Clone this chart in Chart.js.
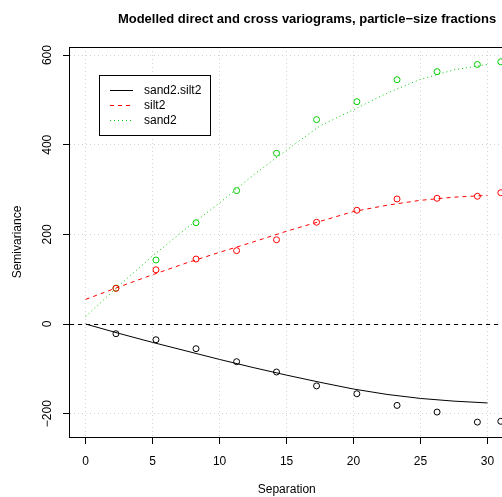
<!DOCTYPE html>
<html>
<head>
<meta charset="utf-8">
<script src="https://cdn.jsdelivr.net/npm/chart.js@4"></script>
<style>
html,body{margin:0;padding:0;overflow:hidden;background:#ffffff;width:502px;height:497px}
#wrap{position:relative;width:540px;height:497px}
</style>
</head>
<body>
<div id="wrap"><canvas id="c" width="540" height="497"></canvas></div>
<script>
// ---- data ----
const seriesNames = ['sand2.silt2', 'silt2', 'sand2'];
const titleText = 'Modelled direct and cross variograms, particle\u2212size fractions';
const xTitle = 'Separation';
const yTitle = 'Semivariance';

// empirical variogram lags and values (circles)
const lags = [2.26, 5.25, 8.24, 11.27, 14.25, 17.24, 20.25, 23.25, 26.24, 29.25, 31.0];
const sand2silt2Obs = [-21.6, -35, -55, -84, -107, -138, -155.5, -181.5, -196.4, -218.8, -217];
const silt2Obs = [79.6, 121, 145, 163.7, 188, 227, 253.8, 279, 280.5, 285, 293];
const sand2Obs = [80, 142.9, 226, 297.6, 381, 456, 496, 545, 563, 579, 585];

// fitted model curves (lines)
const modelDist = [0, 2.5, 5, 7.5, 10, 12.5, 15, 17.5, 20, 22.5, 25, 27.5, 30];
const sand2silt2Model = [0, -21, -41, -60, -79, -97, -114, -130, -145, -157, -166, -172, -176];
const silt2Model = [55, 83, 110, 136, 160, 183, 207, 229, 251, 265, 276, 283, 287];
const sand2Model = [17, 86, 152, 213, 270, 332, 388, 442, 478, 515, 546, 567, 579];

const xTicks = [0, 5, 10, 15, 20, 25, 30];
const yTicks = [-200, 0, 200, 400, 600];

// ---- styling ----
const FONT = '"Liberation Sans", Arial, Helvetica, sans-serif';
const colors = ['#000000', '#FF0000', '#00CD00'];
const dashes = [[], [4, 4], [1, 3]];
const GRID = '#D3D3D3';

function pts(xs, ys) { return xs.map((x, i) => ({ x: x, y: ys[i] })); }
function fmt(v) { return String(v).replace('-', '\u2212'); }

const obs = [sand2silt2Obs, silt2Obs, sand2Obs];
const mods = [sand2silt2Model, silt2Model, sand2Model];

const datasets = [];
for (let i = 0; i < 3; i++) {
  datasets.push({
    label: seriesNames[i] + ' model',
    data: pts(modelDist, mods[i]),
    showLine: true,
    borderColor: colors[i],
    borderWidth: 1,
    borderDash: dashes[i],
    pointRadius: 0,
    fill: false,
    tension: 0
  });
}
for (let i = 0; i < 3; i++) {
  datasets.push({
    label: seriesNames[i],
    data: pts(lags, obs[i]),
    showLine: false,
    borderColor: colors[i],
    backgroundColor: 'rgba(0,0,0,0)',
    pointStyle: 'circle',
    pointRadius: 3,
    pointBorderWidth: 1,
    pointHoverRadius: 3
  });
}

const decor = {
  id: 'decor',
  beforeDatasetsDraw(chart) {
    const { ctx, chartArea: a, scales: { y } } = chart;
    const py = Math.round(y.getPixelForValue(0)) + 0.5;
    ctx.save();
    ctx.beginPath();
    ctx.rect(a.left, a.top, a.right - a.left, a.bottom - a.top);
    ctx.clip();
    ctx.strokeStyle = '#000';
    ctx.lineWidth = 1;
    ctx.setLineDash([4, 4]);
    ctx.beginPath();
    ctx.moveTo(a.left, py);
    ctx.lineTo(a.right, py);
    ctx.stroke();
    ctx.restore();
  },
  afterDraw(chart) {
    const { ctx, chartArea: a } = chart;
    ctx.save();
    // panel box
    ctx.strokeStyle = '#000';
    ctx.lineWidth = 1;
    ctx.setLineDash([]);
    ctx.strokeRect(Math.round(a.left) - 0.5, Math.round(a.top) + 0.5,
                   Math.round(a.right - a.left) + 1, Math.round(a.bottom - a.top));
    // title
    ctx.fillStyle = '#000';
    ctx.font = 'bold 13px ' + FONT;
    ctx.textAlign = 'center';
    ctx.textBaseline = 'alphabetic';
    ctx.fillText(titleText, 307, 22.5);
    // legend
    const lx = 99.5, ly = 75.5, lw = 111, lh = 60;
    ctx.fillStyle = '#fff';
    ctx.fillRect(lx, ly, lw, lh);
    ctx.strokeStyle = '#000';
    ctx.strokeRect(lx, ly, lw, lh);
    ctx.font = '12px ' + FONT;
    ctx.textAlign = 'left';
    ctx.textBaseline = 'middle';
    for (let i = 0; i < 3; i++) {
      const yy = 90.5 + i * 15;
      ctx.strokeStyle = colors[i];
      ctx.setLineDash(dashes[i]);
      ctx.beginPath();
      ctx.moveTo(110, yy);
      ctx.lineTo(133, yy);
      ctx.stroke();
      ctx.setLineDash([]);
      ctx.fillStyle = '#000';
      ctx.fillText(seriesNames[i], 144, yy + 0.5);
    }
    ctx.restore();
  }
};

Chart.defaults.font.family = FONT;
Chart.defaults.font.size = 12;
Chart.defaults.color = '#000';

new Chart(document.getElementById('c'), {
  type: 'scatter',
  data: { datasets: datasets },
  options: {
    responsive: false,
    animation: false,
    devicePixelRatio: 1,
    events: [],
    layout: { padding: { left: 0, top: 47, right: 36.5, bottom: 0 } },
    plugins: {
      legend: { display: false },
      title: { display: false },
      tooltip: { enabled: false }
    },
    scales: {
      x: {
        type: 'linear',
        min: -1.17,
        max: 31.2,
        afterFit(s) { s.height = 60; },
        afterBuildTicks(s) { s.ticks = xTicks.map(v => ({ value: v })); },
        grid: { color: GRID, lineWidth: 1, drawTicks: true, tickLength: 7, tickColor: '#000', tickWidth: 1 },
        border: { display: false, dash: [1, 3] },
        ticks: { padding: 10, maxRotation: 0, minRotation: 0, font: { size: 12 }, callback: v => fmt(v) },
        title: { display: true, text: xTitle, font: { size: 12 }, padding: { top: 0, bottom: 0 } }
      },
      y: {
        type: 'linear',
        min: -252,
        max: 618,
        afterFit(s) { s.width = 70; },
        afterBuildTicks(s) { s.ticks = yTicks.map(v => ({ value: v })); },
        grid: { color: GRID, lineWidth: 1, drawTicks: true, tickLength: 7, tickColor: '#000', tickWidth: 1 },
        border: { display: false, dash: [1, 3] },
        ticks: { padding: 1.5, minRotation: 90, maxRotation: 90, crossAlign: 'center', font: { size: 12 }, callback: v => fmt(v) },
        title: { display: true, text: yTitle, font: { size: 12 }, padding: { top: 10.8, bottom: 0 } }
      }
    }
  },
  plugins: [decor]
});
</script>
</body>
</html>
